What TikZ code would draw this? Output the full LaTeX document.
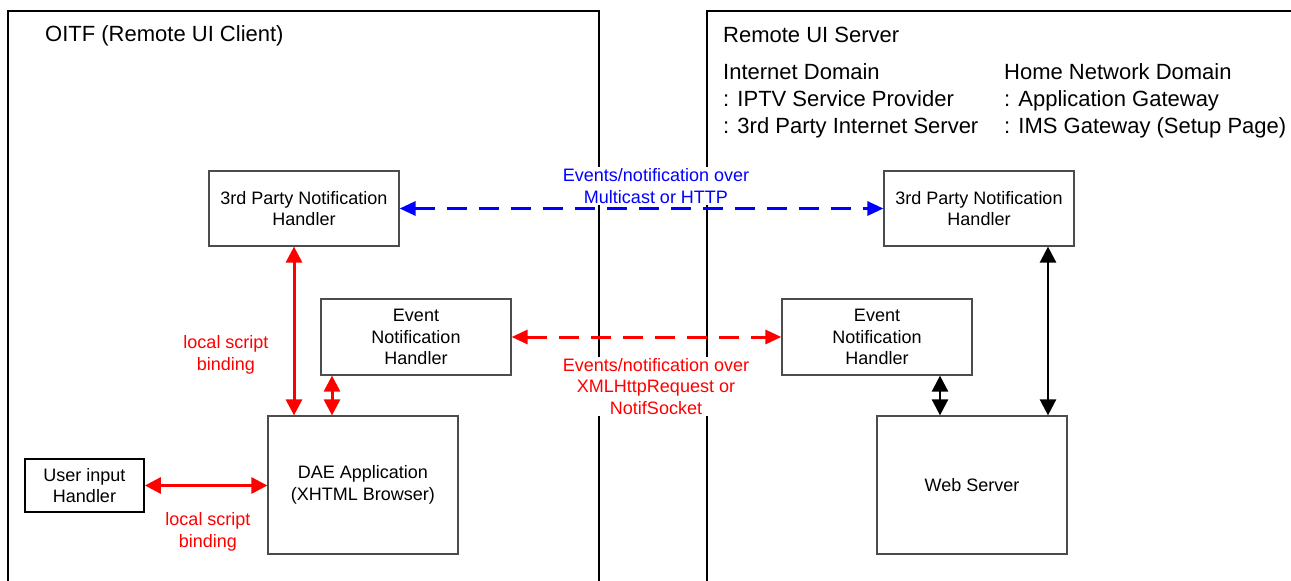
\documentclass[tikz,border=0pt]{standalone}
\usepackage{fontspec}
\setmainfont{Liberation Sans}
\usetikzlibrary{arrows.meta}
\begin{document}
\begin{tikzpicture}[x=1pt,y=-1pt,
  frame/.style={draw=black,line width=1.5pt},
  box/.style={draw=black!70,line width=1.2pt,minimum width=190pt,align=center,inner sep=0pt,
    font=\fontsize{18}{21.5}\selectfont},
  title/.style={anchor=west,inner sep=0pt,font=\fontsize{22}{27}\selectfont},
  lbl/.style={align=center,inner sep=1.5pt,fill=white,font=\fontsize{18}{21.5}\selectfont},
  tip/.style={{Triangle[length=16pt,width=16pt]}-{Triangle[length=16pt,width=16pt]}},
  redarr/.style={tip,draw=red,line width=3pt},
  blkarr/.style={tip,draw=black,line width=2.5pt},
  dasharr/.style={{Triangle[length=16pt,width=14pt]}-{Triangle[length=16pt,width=14pt]},line width=3pt,dash pattern=on 20pt off 12pt}]
\useasboundingbox (0,0) rectangle (1291,581);
\clip (0,0) rectangle (1291,581);
\fill[white] (0,0) rectangle (1291,581);
% frames
\draw[frame] (8,600) -- (8,11) -- (599,11) -- (599,600);
\draw[frame] (1300,11) -- (707,11) -- (707,600);
% titles
\node[title] (tl) at (45,36) {OITF (Remote UI Client)};
\node[title] (tr) at (723,35) {Remote UI Server};
\node[title,align=left] (dom1) at (723,100.5) {Internet Domain\\: IPTV Service Provider\\: 3rd Party Internet Server};
\node[title,align=left] (dom2) at (1004,100.5) {Home Network Domain\\: Application Gateway\\: IMS Gateway (Setup Page)};
% boxes
\node[box,minimum height=75pt] (ltp) at (304,208.5) {3rd Party Notification\\Handler};
\node[box,minimum height=75pt] (rtp) at (979,208.5) {3rd Party Notification\\Handler};
\node[box,minimum height=76pt] (len) at (416,337) {Event\\Notification\\Handler};
\node[box,minimum height=76pt] (ren) at (877,337) {Event\\Notification\\Handler};
\node[box,minimum height=138pt] (dae) at (363,485) {DAE Application\\(XHTML Browser)};
\node[box,minimum height=138pt] (ws) at (972,485) {Web Server};
\node[box,draw=black,line width=1.8pt,minimum width=119pt,minimum height=53pt] (ui) at (84.5,485.5) {User input\\Handler};
% connectors
\draw[dasharr,draw=blue] (ltp.east) -- (rtp.west);
\draw[dasharr,draw=red] (len.east) -- (ren.west);
\draw[redarr] ([xshift=-10]ltp.south) -- ([xshift=-10]ltp.south |- dae.north);
\draw[redarr] ([xshift=-84]len.south) -- ([xshift=-84]len.south |- dae.north);
\draw[redarr] (ui.east) -- (ui.east -| dae.west);
\draw[blkarr] ([xshift=63]ren.south) -- ([xshift=63]ren.south |- ws.north);
\draw[blkarr] ([xshift=69]rtp.south) -- ([xshift=69]rtp.south |- ws.north);
% labels
\node[lbl,text=blue] (lblue) at (656,186) {Events/notification over\\Multicast or HTTP};
\node[lbl,text=red] (lred) at (656,386.5) {Events/notification over\\XMLHttpRequest or\\NotifSocket};
\node[lbl,text=red,fill=none] (lsb1) at (226,355) {local script\\binding};
\node[lbl,text=red,fill=none] (lsb2) at (208,532) {local script\\binding};
\end{tikzpicture}
\end{document}
